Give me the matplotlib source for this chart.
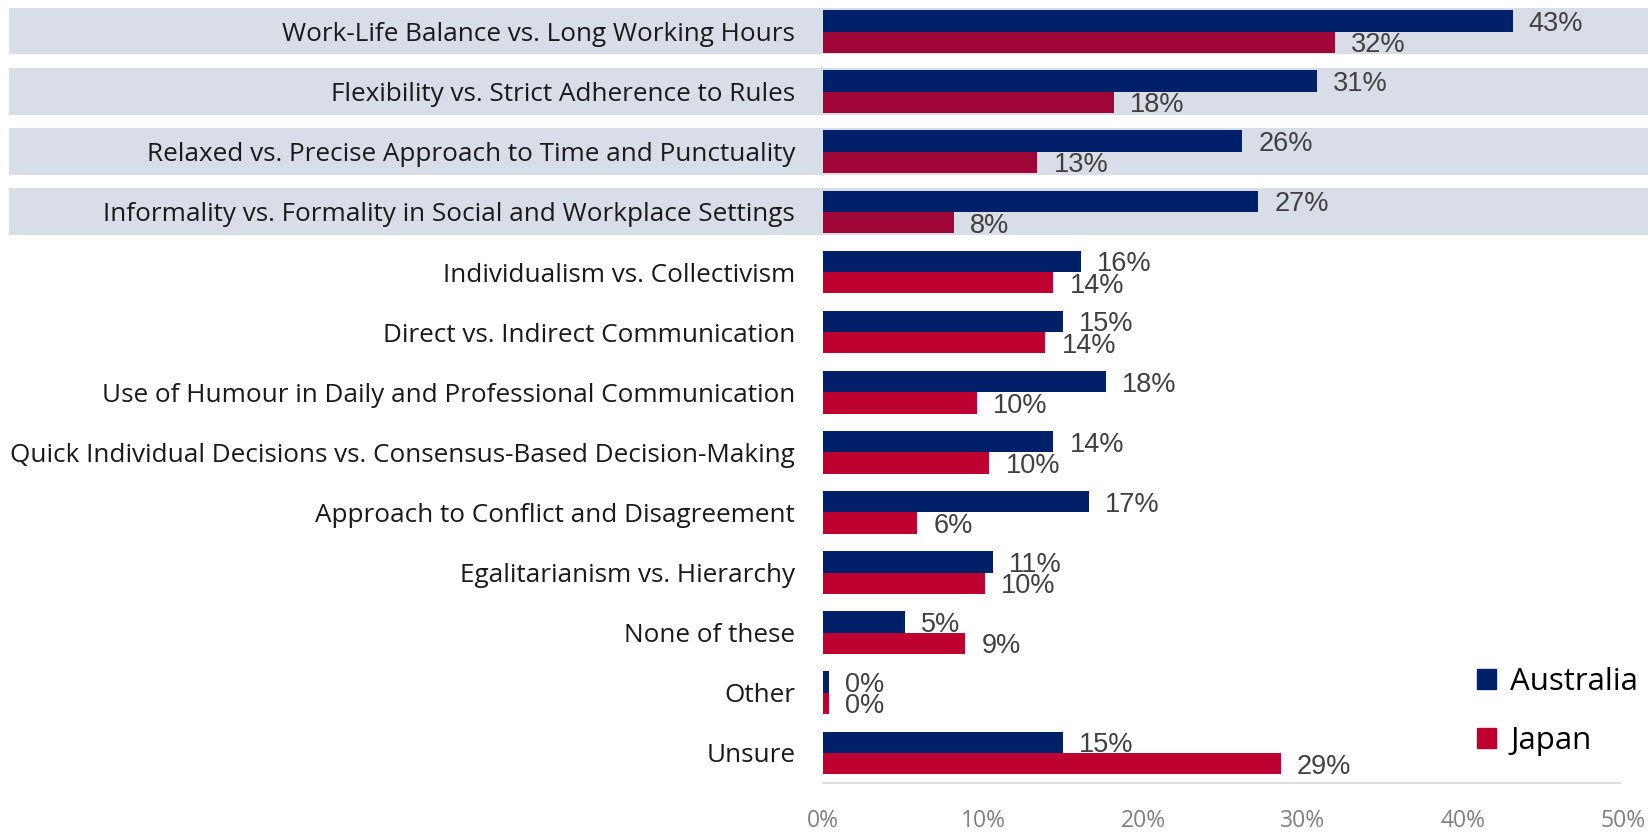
import matplotlib.pyplot as plt
from matplotlib.patches import Rectangle, Patch
from matplotlib.transforms import blended_transform_factory

# data
categories = [
    "Work-Life Balance vs. Long Working Hours",
    "Flexibility vs. Strict Adherence to Rules",
    "Relaxed vs. Precise Approach to Time and Punctuality",
    "Informality vs. Formality in Social and Workplace Settings",
    "Individualism vs. Collectivism",
    "Direct vs. Indirect Communication",
    "Use of Humour in Daily and Professional Communication",
    "Quick Individual Decisions vs. Consensus-Based Decision-Making",
    "Approach to Conflict and Disagreement",
    "Egalitarianism vs. Hierarchy",
    "None of these",
    "Other",
    "Unsure",
]
australia = [43.1, 30.9, 26.2, 27.2, 16.1, 15.0, 17.7, 14.4, 16.6, 10.6, 5.1, 0.4, 15.0]
japan = [32.0, 18.2, 13.4, 8.2, 14.4, 13.9, 9.6, 10.4, 5.9, 10.1, 8.9, 0.4, 28.6]
highlighted = [0, 1, 2, 3]
xticks = [0, 10, 20, 30, 40, 50]

navy = "#00216A"
red = "#BD0030"
red_dark = "#A00538"
band = "#D9DDE8"

fig = plt.figure(figsize=(16.48, 8.32), dpi=100)
ax = fig.add_axes([0.4994, 0.0589, 0.4854, 0.9393])

h = 0.355
y = list(range(len(categories)))

trans = blended_transform_factory(ax.transAxes, ax.transData)
for i in highlighted:
    ax.add_patch(Rectangle((-1.018, i - 0.4), 2.06, 0.78, transform=trans,
                           facecolor=band, edgecolor="none", zorder=0, clip_on=False))

jp_colors = [red_dark if i in highlighted else red for i in y]
ax.barh([v - h / 2 for v in y], australia, height=h, color=navy, zorder=2)
ax.barh([v + h / 2 for v in y], japan, height=h, color=jp_colors, zorder=2)

for i in y:
    ax.text(australia[i] + 1.0, i - h / 2 + 0.05, f"{australia[i]:.0f}%", va="center", ha="left",
            fontsize=19.5, color="#404040", family="Liberation Sans", zorder=3)
    ax.text(japan[i] + 1.0, i + h / 2 + 0.05, f"{japan[i]:.0f}%", va="center", ha="left",
            fontsize=19.5, color="#404040", family="Liberation Sans", zorder=3)

ax.set_xlim(0, 50)
ax.set_ylim(len(categories) - 0.5, -0.5)
ax.set_yticks(y)
ax.set_yticklabels(categories, fontsize=18.8, family="Open Sans", color="#1A1A1A")
ax.set_xticks(xticks)
ax.set_xticklabels([f"{t}%" for t in xticks], fontsize=16.5, family="Open Sans", color="#808080")
ax.tick_params(axis="y", length=0, pad=20)
ax.tick_params(axis="x", length=0, pad=19)

for s in ["top", "right", "left"]:
    ax.spines[s].set_visible(False)
ax.spines["bottom"].set_color("#D9D9D9")
ax.spines["bottom"].set_linewidth(1.2)
ax.spines["bottom"].set_bounds(0, 49.8)
ax.set_facecolor("none")

handles = [Patch(color=navy, label="Australia"), Patch(color=red, label="Japan")]
ax.legend(handles=handles, loc="upper left", bbox_to_anchor=(0.798, 0.168), frameon=False,
          prop={"family": "Open Sans", "size": 22.5}, handlelength=0.62, handleheight=0.62,
          handletextpad=0.45, labelspacing=0.92, borderpad=0)

fig.savefig("out.png", dpi=100)
